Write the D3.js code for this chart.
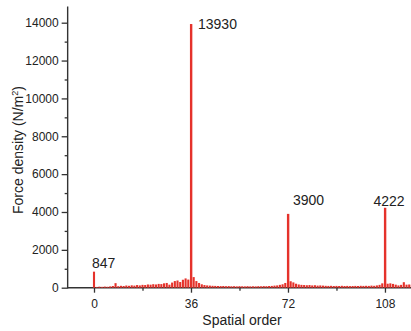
<!DOCTYPE html>
<html>
<head>
<meta charset="utf-8">
<script src="https://cdn.jsdelivr.net/npm/d3@7"></script>
<style>
  html, body { margin: 0; padding: 0; background: #fff; }
  svg { display: block; font-family: "Liberation Sans", Arial, Helvetica, sans-serif; }
</style>
</head>
<body>
<svg id="chart" width="411" height="331"></svg>
<script>
// ---- data ----
const orders = d3.range(0, 119);
const forceDensity = [
  847, 40, 55, 45, 60, 50, 70, 90, 240, 80,
  100, 90, 115, 100, 125, 110, 140, 120, 150, 140,
  170, 160, 185, 170, 200, 190, 230, 250, 160, 270,
  350, 380, 300, 420, 490, 430, 13930, 560, 350, 250,
  180, 140, 120, 110, 100, 95, 90, 85, 90, 80,
  85, 75, 80, 70, 80, 75, 70, 80, 70, 75,
  70, 80, 75, 85, 80, 90, 95, 110, 120, 150,
  180, 250, 3900, 340, 280, 210, 170, 150, 140, 130,
  140, 120, 130, 110, 120, 110, 100, 95, 100, 90,
  95, 90, 100, 90, 95, 85, 90, 95, 90, 100,
  95, 100, 95, 110, 100, 120, 150, 230, 4222, 210,
  230, 200, 160, 120, 150, 290, 160, 170, 140
];
const xTicks = [0, 36, 72, 108];
const xMinorTicks = [18, 54, 90];
const yTicks = [0, 2000, 4000, 6000, 8000, 10000, 12000, 14000];
const yMinorTicks = [1000, 3000, 5000, 7000, 9000, 11000, 13000];
const peakOrders = [0, 36, 72, 108];
const peakLabels = ["847", "13930", "3900", "4222"];
const xTitle = "Spatial order";
const yTitle = "Force density (N/m";

// ---- layout ----
const svg = d3.select("#chart");
const x = d3.scaleLinear().domain([-10, 118]).range([67.06, 411.9]);
const y = d3.scaleLinear().domain([0, 14000]).range([287.7, 22.7]);
const yTop = y(14850);
const axisColor = "#333";
const barColor = "#e5322b";

// axes
const gx = svg.append("g").attr("transform", `translate(0,${y(0)})`);
gx.call(d3.axisBottom(x).tickValues(xTicks).tickSize(5).tickPadding(7).tickFormat(d3.format("d")));
const gxm = svg.append("g").attr("transform", `translate(0,${y(0)})`);
gxm.call(d3.axisBottom(x).tickValues(xMinorTicks).tickSize(3).tickFormat(""));

const gy = svg.append("g").attr("transform", `translate(${x(-10) + 0.6},0)`);
gy.call(d3.axisLeft(y).tickValues(yTicks).tickSize(6).tickPadding(3).tickFormat(d3.format("d")));
const gym = svg.append("g").attr("transform", `translate(${x(-10) + 0.6},0)`);
gym.call(d3.axisLeft(y).tickValues(yMinorTicks).tickSize(3).tickFormat(""));

[gx, gxm, gy, gym].forEach(g => {
  g.select(".domain").remove();
  g.selectAll(".tick line").attr("stroke", axisColor).attr("stroke-width", 1.3);
  g.selectAll(".tick text").attr("fill", "#222").style("font-size", "12px")
    .style("font-family", '"Liberation Sans", Arial, sans-serif');
});

// axis lines
svg.append("line")
  .attr("x1", x(-10) + 0.6).attr("x2", 411)
  .attr("y1", y(0)).attr("y2", y(0))
  .attr("stroke", axisColor).attr("stroke-width", 1.4);
svg.append("line")
  .attr("x1", x(-10) + 0.6).attr("x2", x(-10) + 0.6)
  .attr("y1", yTop).attr("y2", y(0) + 0.7)
  .attr("stroke", axisColor).attr("stroke-width", 1.4);

// bars
const bw = 2.1;
svg.append("g").selectAll("rect")
  .data(orders.map((o, i) => ({ o, v: forceDensity[i] })))
  .join("rect")
  .attr("x", d => x(d.o) - bw / 2)
  .attr("width", d => d.v > 1000 ? 2.4 : bw)
  .attr("y", d => y(d.v))
  .attr("height", d => y(0) - y(d.v))
  .attr("fill", barColor);

// peak labels
const labelOffsets = [[-2, -3.5, "start"], [7, 4.5, "start"], [5, -8.5, "start"], [-11.5, -1.5, "start"]];
peakOrders.forEach((o, i) => {
  const v = forceDensity[orders.indexOf(o)];
  svg.append("text")
    .attr("x", x(o) + labelOffsets[i][0])
    .attr("y", y(v) + labelOffsets[i][1])
    .attr("text-anchor", labelOffsets[i][2])
    .attr("fill", "#222")
    .style("font-size", "14px")
    .text(peakLabels[i]);
});

// axis titles
svg.append("text")
  .attr("x", 242).attr("y", 325)
  .attr("text-anchor", "middle")
  .attr("fill", "#222")
  .style("font-size", "14px")
  .text(xTitle);

const yt = svg.append("text")
  .attr("transform", "translate(23,150) rotate(-90)")
  .attr("text-anchor", "middle")
  .attr("fill", "#222")
  .style("font-size", "14px");
yt.append("tspan").text(yTitle);
yt.append("tspan").attr("dy", -5).style("font-size", "9px").text("2");
yt.append("tspan").attr("dy", 5).text(")");
</script>
</body>
</html>
